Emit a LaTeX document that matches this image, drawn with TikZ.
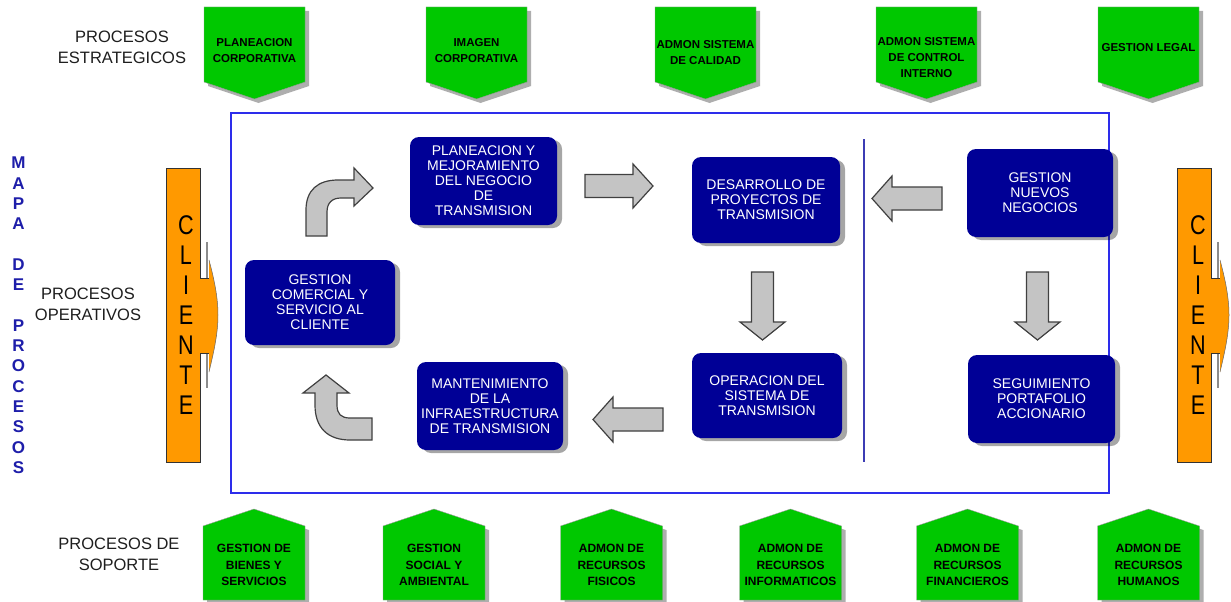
\documentclass[tikz,border=0pt]{standalone}
\usepackage{fontspec}
\setmainfont{Liberation Sans}
\usetikzlibrary{shadows}

\definecolor{procgreen}{RGB}{0,200,0}
\definecolor{navybox}{RGB}{0,0,150}
\definecolor{frameblue}{RGB}{45,45,235}
\definecolor{divblue}{RGB}{60,60,180}
\definecolor{clientorange}{RGB}{255,153,0}
\definecolor{arrowgray}{RGB}{196,196,196}
\definecolor{maptext}{RGB}{30,30,170}
\definecolor{labeltext}{RGB}{30,30,30}

\tikzset{
  greenshape/.style={fill=procgreen, draw=black!40, line width=0.4pt,
    drop shadow={shadow xshift=4pt, shadow yshift=-4pt, opacity=0.45, fill=black!70}},
  pentxt/.style={align=center, text=black, inner sep=0pt,
    font=\bfseries\fontsize{11.5}{16}\selectfont},
  pentxtlow/.style={pentxt, font=\bfseries\fontsize{12}{16.5}\selectfont},
  opbox/.style={fill=navybox, rounded corners=9pt, text=white, align=center,
    inner sep=1pt, font=\fontsize{14}{15}\selectfont,
    drop shadow={shadow xshift=5pt, shadow yshift=-3pt, opacity=0.35, fill=black}},
  blockarrow/.style={fill=arrowgray, draw=black!75, line width=1.2pt, line join=miter},
  sidelabel/.style={align=center, text=labeltext, inner sep=0pt,
    font=\fontsize{16.5}{21}\selectfont},
  mapletter/.style={text=maptext, inner sep=0pt, font=\bfseries\fontsize{17}{17}\selectfont},
  clientletter/.style={text=black, inner sep=0pt, font=\fontsize{27}{27}\selectfont},
  clientbar/.style={fill=clientorange},
  clientedge/.style={draw=black!80, line width=0.9pt},
}

\begin{document}
\begin{tikzpicture}[x=1pt, y=-1pt]
\useasboundingbox (0,0) rectangle (1231,602);
\fill[white] (0,0) rectangle (1231,602);

% ---- side labels ----
\node[sidelabel] (estr) at (122,47.5) {PROCESOS\\ESTRATEGICOS};
\node[sidelabel] (oper) at (88,304.5) {PROCESOS\\OPERATIVOS};
\node[sidelabel] (sop)  at (119,554) {PROCESOS DE\\SOPORTE};

% vertical title
\foreach \ch/\r [count=\k] in {M/0,A/1,P/2,A/3,D/5,E/6,P/8,R/9,O/10,C/11,E/12,S/13,O/14,S/15}
  \node[mapletter] (map\k) at (18.5,163+20.3*\r) {\ch};

% ---- strategic processes (pointing down) ----
\foreach \cx/\ty/\txt [count=\k] in {
  254.5/50.5/{PLANEACION\\CORPORATIVA},
  476.5/50.5/{IMAGEN\\CORPORATIVA},
  705.5/53/{ADMON SISTEMA\\DE CALIDAD},
  926.5/57.5/{ADMON SISTEMA\\DE CONTROL\\INTERNO},
  1148.5/48/{GESTION LEGAL}} {
  \path[greenshape] (\cx-50.5,7) -- (\cx+50.5,7) -- (\cx+50.5,82) -- (\cx,99)
      -- (\cx-50.5,82) -- cycle;
  \node[pentxt] (s\k) at (\cx,\ty) {\txt};
}

% ---- support processes (pointing up) ----
\foreach \cx/\txt [count=\k] in {
  254/{GESTION DE\\BIENES Y\\SERVICIOS},
  434/{GESTION\\SOCIAL Y\\AMBIENTAL},
  611.5/{ADMON DE\\RECURSOS\\FISICOS},
  790.5/{ADMON DE\\RECURSOS\\INFORMATICOS},
  967.5/{ADMON DE\\RECURSOS\\FINANCIEROS},
  1148.5/{ADMON DE\\RECURSOS\\HUMANOS}} {
  \path[greenshape] (\cx-51,600) -- (\cx-51,526) -- (\cx,509) -- (\cx+51,526)
      -- (\cx+51,600) -- cycle;
  \node[pentxtlow] (b\k) at (\cx,565) {\txt};
}

% ---- operative frame and divider ----
\draw[frameblue, line width=2pt] (231,113) rectangle (1109,493);
\coordinate (divtop) at (864,139);
\coordinate (divbot) at (864,462);
\draw[divblue, line width=1.8pt] (divtop) -- (divbot);

% ---- client bars ----
\foreach \L/\xc [count=\k] in {166/186, 1177/1198} {
  \pgfmathsetmacro{\R}{\L+34}
  \fill[clientbar] (\L,168) rectangle (\R,462);
  \draw[clientedge] (\R,278) -- (\R,168) -- (\L,168) -- (\L,462) -- (\R,462) -- (\R,353);
  \draw[black!45, line width=1.8pt] (\R+7,242) -- (\R+7,278);
  \draw[black!45, line width=1.8pt] (\R+7,353) -- (\R+7,388);
  \path[fill=clientorange] (\R-0.6,278) -- (\R+9,278) -- (\R+9,260)
      .. controls (\R+13,275) and (\R+18,295) .. (\R+18,315)
      .. controls (\R+18,335) and (\R+13,355) .. (\R+9,372)
      -- (\R+9,353) -- (\R-0.6,353) -- cycle;
  \draw[black!80, line width=0.6pt] (\R,278) -- (\R+9,278);
  \draw[black!80, line width=0.6pt] (\R,353) -- (\R+9,353);
  \draw[black!60, line width=0.5pt] (\R+9,260)
      .. controls (\R+13,275) and (\R+18,295) .. (\R+18,315)
      .. controls (\R+18,335) and (\R+13,355) .. (\R+9,372);
  \foreach \ch [count=\i from 0] in {C,L,I,E,N,T,E}
    \node[clientletter] (cl\k-\i) at (\xc,225+30*\i) {\scalebox{0.8}[1]{\ch}};
}

% ---- operative processes ----
\node[opbox, minimum width=147pt, minimum height=88pt] (plan) at (483.5,181)
  {PLANEACION Y\\MEJORAMIENTO\\DEL NEGOCIO\\DE\\TRANSMISION};
\node[opbox, minimum width=150pt, minimum height=85pt] (gcom) at (320,302.5)
  {GESTION\\COMERCIAL Y\\SERVICIO AL\\CLIENTE};
\node[opbox, minimum width=146pt, minimum height=88pt] (mant) at (490,406)
  {MANTENIMIENTO\\DE LA\\INFRAESTRUCTURA\\DE TRANSMISION};
\node[opbox, minimum width=148pt, minimum height=86pt] (desa) at (766,200)
  {DESARROLLO DE\\PROYECTOS DE\\TRANSMISION};
\node[opbox, minimum width=150pt, minimum height=85pt] (oper) at (767,395.5)
  {OPERACION DEL\\SISTEMA DE\\TRANSMISION};
\node[opbox, minimum width=146pt, minimum height=88pt] (nuev) at (1040,193)
  {GESTION\\NUEVOS\\NEGOCIOS};
\node[opbox, minimum width=147pt, minimum height=88pt] (segu) at (1041.5,399)
  {SEGUIMIENTO\\PORTAFOLIO\\ACCIONARIO};

% ---- block arrows ----
% planeacion -> desarrollo
\path[blockarrow] (585,174.5) -- (633,174.5) -- (633,164) -- (653,186)
  -- (633,208) -- (633,197.5) -- (585,197.5) -- cycle;
% nuevos negocios -> desarrollo
\path[blockarrow] (942,187) -- (892,187) -- (892,176) -- (872,198.5)
  -- (892,221) -- (892,210) -- (942,210) -- cycle;
% operacion -> mantenimiento
\path[blockarrow] (663,408) -- (613,408) -- (613,397) -- (593,419.5)
  -- (613,442) -- (613,431) -- (663,431) -- cycle;
% desarrollo -> operacion
\path[blockarrow] (751.5,272) -- (773.5,272) -- (773.5,322) -- (785,322)
  -- (762.5,340) -- (740,322) -- (751.5,322) -- cycle;
% nuevos negocios -> seguimiento
\path[blockarrow] (1026.5,272) -- (1048.5,272) -- (1048.5,322) -- (1060,322)
  -- (1037.5,340) -- (1015,322) -- (1026.5,322) -- cycle;
% gestion comercial -> planeacion (bent)
\path[blockarrow] (306,236) -- (306,210)
  .. controls (306,190) and (318,180) .. (338,180)
  -- (354,180) -- (354,168) -- (373,188) -- (354,206) -- (354,198) -- (341,198)
  .. controls (332,198) and (327,203) .. (327,212)
  -- (327,236) -- cycle;
% mantenimiento -> gestion comercial (bent)
\path[blockarrow] (372,418) -- (372,440) -- (350,440)
  .. controls (328,440) and (315,428) .. (315,405)
  -- (315,393) -- (303,393) -- (326,375) -- (349,393) -- (337,393) -- (337,405)
  .. controls (337,414) and (341,418) .. (350,418) -- cycle;

\end{tikzpicture}
\end{document}
